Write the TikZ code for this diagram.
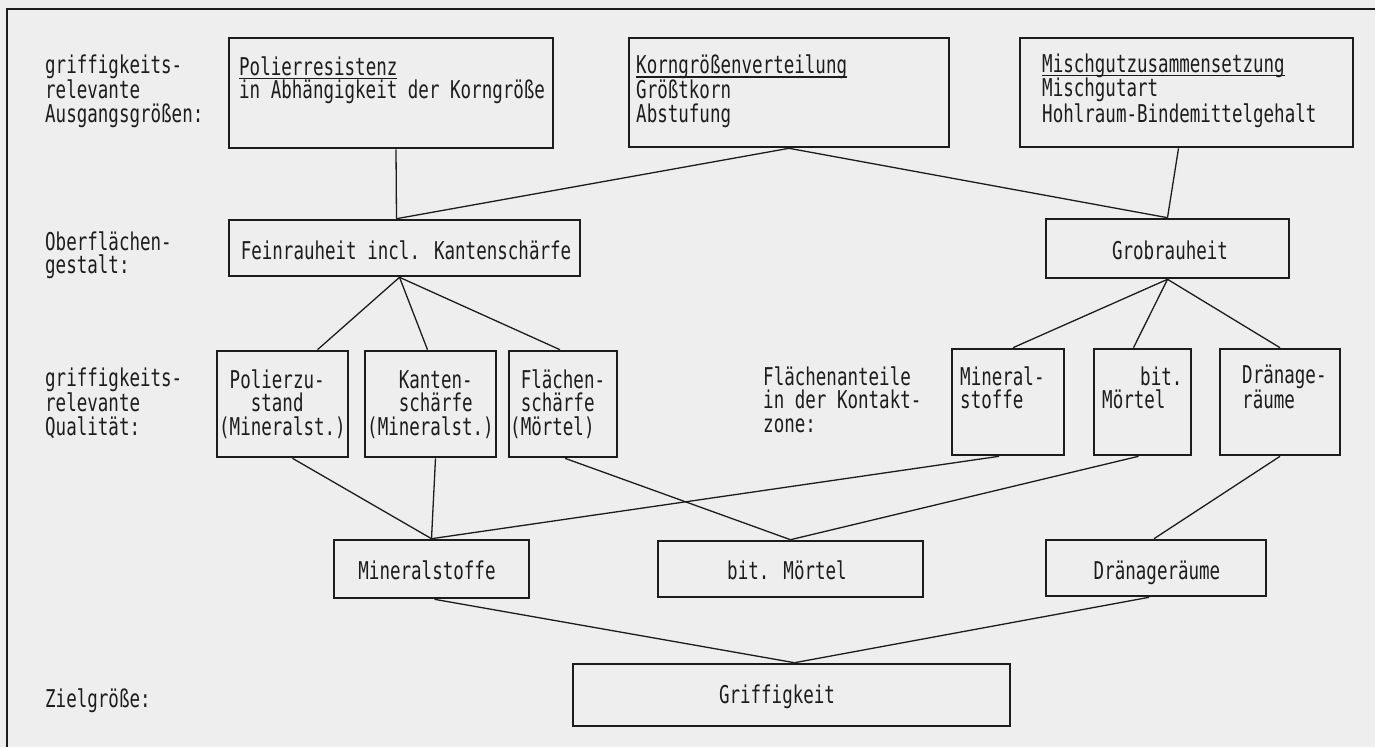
\documentclass[tikz,border=0pt]{standalone}
\usepackage{fontspec}
\newfontfamily\tf[FakeStretch=0.715]{DejaVu Sans Mono}
\definecolor{ink}{HTML}{1C1C1C}
\definecolor{paper}{HTML}{EEEEEE}
\newsavebox{\ulbox}
\newcommand\uln[1]{\sbox{\ulbox}{#1}\rlap{\rule[-4pt]{\wd\ulbox}{1.2pt}}\usebox{\ulbox}}
\begin{document}
\begin{tikzpicture}[x=1pt,y=-1pt,
  box/.style={draw=ink, line width=2.6pt, inner sep=0pt},
  conn/.style={draw=ink, line width=1.3pt},
  txt/.style={text=ink, font={\tf\fontsize{24.5}{23.5}\selectfont}, inner sep=0pt, align=left, anchor=base west},
  ctxt/.style={text=ink, font={\tf\fontsize{24.5}{23.5}\selectfont}, inner sep=0pt, anchor=base}]
\useasboundingbox (0,0) rectangle (1375,747);
\fill[paper] (0,0) rectangle (1375,747);
% frame
\draw[ink, line width=2pt] (1375,9) -- (7,9) -- (7,747);

% boxes
\node[box, minimum width=324pt, minimum height=110pt] (polier) at (391,93) {};
\node[box, minimum width=320pt, minimum height=109pt] (korn) at (789,92.5) {};
\node[box, minimum width=333pt, minimum height=109pt] (misch) at (1186.5,92.5) {};
\node[box, minimum width=351pt, minimum height=56pt] (fein) at (404.5,248) {};
\node[box, minimum width=243pt, minimum height=59pt] (grob) at (1167.5,248.5) {};
\node[box, minimum width=131pt, minimum height=106pt] (pz) at (282.5,404) {};
\node[box, minimum width=131pt, minimum height=106pt] (ks) at (430.5,404) {};
\node[box, minimum width=108pt, minimum height=106pt] (fs) at (563,404) {};
\node[box, minimum width=112pt, minimum height=106pt] (mi) at (1008,402) {};
\node[box, minimum width=97pt, minimum height=106pt] (bm) at (1142.5,402) {};
\node[box, minimum width=120pt, minimum height=106pt] (dr) at (1280,402) {};
\node[box, minimum width=195pt, minimum height=58pt] (ms) at (431.5,569) {};
\node[box, minimum width=265pt, minimum height=56pt] (bmo) at (790.5,569) {};
\node[box, minimum width=220pt, minimum height=56pt] (dra) at (1156,568) {};
\node[box, minimum width=437pt, minimum height=62pt] (griff) at (791.5,695) {};

% texts (base = last line)
\node[txt] (l1) at (45,122) {griffigkeits-\\relevante\\Ausgangsgrößen:};
\node[txt] (t1) at (239,98.5) {\uln{Polierresistenz}\\in Abhängigkeit der Korngröße};
\node[txt] (t2) at (636,122) {\uln{Korngrößenverteilung}\\Größtkorn\\Abstufung};
\node[txt] (t3) at (1042,122) {\uln{Mischgutzusammensetzung}\\Mischgutart\\Hohlraum-Bindemittelgehalt};
\node[txt] (l2) at (45,273.5) {Oberflächen-\\gestalt:};
\node[ctxt] (t4) at (406,259) {Feinrauheit incl. Kantenschärfe};
\node[ctxt] (t5) at (1170,259) {Grobrauheit};
\node[txt] (l3) at (45,435) {griffigkeits-\\relevante\\Qualität:};
\node[txt] (t6) at (219,435) {\hphantom{(}Polierzu-\\\hphantom{(Mi}stand\\(Mineralst.)};
\node[txt] (t7) at (367,435) {\hphantom{(Mi}Kanten-\\\hphantom{(Mi}schärfe\\(Mineralst.)};
\node[txt] (t8) at (510,435) {\hphantom{(}Flächen-\\\hphantom{(}schärfe\\(Mörtel)};
\node[txt] (l4) at (763,432) {Flächenanteile\\in der Kontakt-\\zone:};
\node[txt] (t9) at (960,408.5) {Mineral-\\stoffe};
\node[txt] (t10) at (1102,408.5) {\hspace*{38pt}bit.\\Mörtel};
\node[txt] (t11) at (1242,408.5) {Dränage-\\räume};
\node[ctxt] (t12) at (427,579) {Mineralstoffe};
\node[ctxt] (t13) at (787,579) {bit. Mörtel};
\node[ctxt] (t14) at (1157,579) {Dränageräume};
\node[txt] (l5) at (45,707) {Zielgröße:};
\node[ctxt] (t15) at (777,703) {Griffigkeit};

% connectors
\draw[conn] ([xshift=5pt]polier.south) -- ([xshift=-8pt]fein.north);
\draw[conn] (korn.south) -- ([xshift=-8pt]fein.north);
\draw[conn] (korn.south) -- (grob.north);
\draw[conn] ([xshift=-8pt]misch.south) -- (grob.north);
\draw[conn] ([xshift=-5pt]fein.south) -- ([xshift=35pt]pz.north);
\draw[conn] ([xshift=-5pt]fein.south) -- ([xshift=-3pt]ks.north);
\draw[conn] ([xshift=-5pt]fein.south) -- ([xshift=-3pt]fs.north);
\draw[conn] (grob.south) -- ([xshift=5pt]mi.north);
\draw[conn] (grob.south) -- ([xshift=-9pt]bm.north);
\draw[conn] (grob.south) -- (dr.north);
\draw[conn] ([xshift=10pt]pz.south) -- (ms.north);
\draw[conn] ([xshift=5pt]ks.south) -- (ms.north);
\draw[conn] ([xshift=-9pt]mi.south) -- (ms.north);
\draw[conn] ([xshift=2pt]fs.south) -- (bmo.north);
\draw[conn] ([xshift=-4pt]bm.south) -- (bmo.north);
\draw[conn] (dr.south) -- ([xshift=-2pt]dra.north);
\draw[conn] ([xshift=3pt]ms.south) -- ([xshift=3pt]griff.north);
\draw[conn] ([xshift=-7pt]dra.south) -- ([xshift=3pt]griff.north);
\end{tikzpicture}
\end{document}
